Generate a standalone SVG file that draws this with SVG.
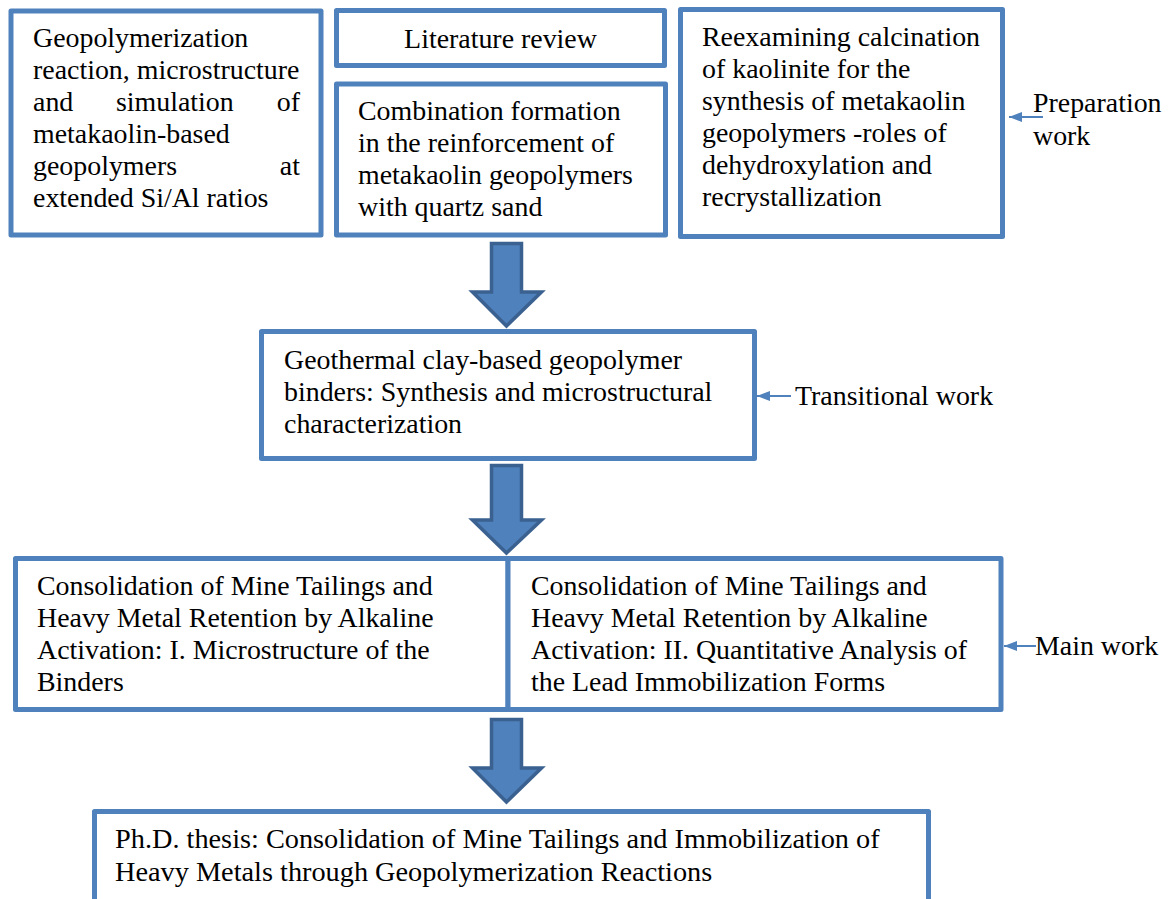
<svg xmlns="http://www.w3.org/2000/svg" width="1175" height="899" viewBox="0 0 1175 899">
<defs>
<style>
.box{fill:#FFFFFF;stroke:#4F81BD;stroke-width:5;stroke-linejoin:round}
.t{font-family:"Liberation Serif","Times New Roman",serif;font-size:27.9px;fill:#000000}
.big{fill:#4F81BD;stroke:#3A6190;stroke-width:3.5;stroke-linejoin:miter}
.sm{stroke:#4F81BD;stroke-width:2;fill:none}
</style>
<marker id="ah" viewBox="0 0 10 10" refX="10" refY="5" markerWidth="13" markerHeight="10" markerUnits="userSpaceOnUse" orient="auto" preserveAspectRatio="none">
<path d="M0,0 L10,5 L0,10 Z" fill="#4F81BD"/>
</marker>
</defs>
<rect x="0" y="0" width="1175" height="899" fill="#FFFFFF"/>

<g id="node-geopolymerization">
<rect class="box" x="11" y="11" width="310" height="224"/>
<text class="t" x="33" y="47">Geopolymerization</text>
<text class="t" x="33" y="79">reaction, microstructure</text>
<text class="t" x="33" y="111">and</text>
<text class="t" x="116" y="111">simulation</text>
<text class="t" x="300" y="111" text-anchor="end">of</text>
<text class="t" x="33" y="143">metakaolin-based</text>
<text class="t" x="33" y="175">geopolymers</text>
<text class="t" x="300" y="175" text-anchor="end">at</text>
<text class="t" x="33" y="207">extended Si/Al ratios</text>
</g>

<g id="node-literature">
<rect class="box" x="336.5" y="10.5" width="328" height="55"/>
<text class="t" x="500.5" y="48" text-anchor="middle">Literature review</text>
</g>

<g id="node-combination">
<rect class="box" x="336.5" y="84" width="329" height="151"/>
<text class="t" x="358" y="120">Combination formation</text>
<text class="t" x="358" y="152">in the reinforcement of</text>
<text class="t" x="358" y="184">metakaolin geopolymers</text>
<text class="t" x="358" y="216">with quartz sand</text>
</g>

<g id="node-reexamining">
<rect class="box" x="680.5" y="9.5" width="322" height="227"/>
<text class="t" x="702" y="46">Reexamining calcination</text>
<text class="t" x="702" y="78">of kaolinite for the</text>
<text class="t" x="702" y="110">synthesis of metakaolin</text>
<text class="t" x="702" y="142">geopolymers -roles of</text>
<text class="t" x="702" y="174">dehydroxylation and</text>
<text class="t" x="702" y="206">recrystallization</text>
</g>

<g id="node-preparation">
<text class="t" x="1033" y="112">Preparation</text>
<text class="t" x="1033" y="145">work</text>
</g>

<g id="node-geothermal">
<rect class="box" x="261.5" y="331.5" width="493" height="127"/>
<text class="t" x="284" y="369">Geothermal clay-based geopolymer</text>
<text class="t" x="284" y="401">binders: Synthesis and microstructural</text>
<text class="t" x="284" y="433">characterization</text>
</g>

<g id="node-transitional">
<text class="t" x="795" y="405">Transitional work</text>
</g>

<g id="node-consolidation-1">
<rect class="box" x="15.5" y="558.5" width="492.5" height="151"/>
<text class="t" x="37" y="595">Consolidation of Mine Tailings and</text>
<text class="t" x="37" y="627">Heavy Metal Retention by Alkaline</text>
<text class="t" x="37" y="659">Activation: I. Microstructure of the</text>
<text class="t" x="37" y="691">Binders</text>
</g>

<g id="node-consolidation-2">
<rect class="box" x="508" y="558.5" width="493" height="151"/>
<text class="t" x="531" y="595">Consolidation of Mine Tailings and</text>
<text class="t" x="531" y="627">Heavy Metal Retention by Alkaline</text>
<text class="t" x="531" y="659">Activation: II. Quantitative Analysis of</text>
<text class="t" x="531" y="691">the Lead Immobilization Forms</text>
</g>

<g id="node-main">
<text class="t" x="1035" y="655">Main work</text>
</g>

<g id="node-thesis">
<rect class="box" x="94.5" y="811.5" width="834" height="130"/>
<text class="t" x="115" y="848" style="font-size:28.3px">Ph.D. thesis: Consolidation of Mine Tailings and Immobilization of</text>
<text class="t" x="115" y="881" style="font-size:28.3px">Heavy Metals through Geopolymerization Reactions</text>
</g>

<g id="connectors">
<path class="big" d="M491.5,243.5 H521.5 V292 H541.5 L506.5,326 L472.5,292 H491.5 Z"/>
<path class="big" d="M491.5,465.5 H521.5 V520 H541.5 L506.5,553 L472.5,520 H491.5 Z"/>
<path class="big" d="M491.5,719.5 H521.5 V768 H541.5 L506.5,802 L472.5,768 H491.5 Z"/>
<line class="sm" x1="1043" y1="117" x2="1009" y2="117" marker-end="url(#ah)"/>
<line class="sm" x1="791" y1="396" x2="757" y2="396" marker-end="url(#ah)"/>
<line class="sm" x1="1036" y1="646" x2="1004" y2="646" marker-end="url(#ah)"/>
</g>
</svg>
